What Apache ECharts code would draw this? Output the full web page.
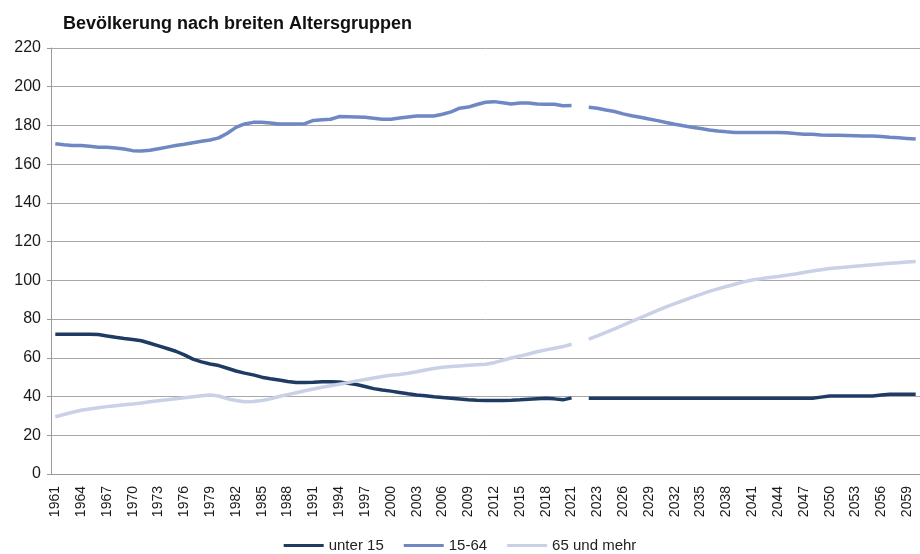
<!DOCTYPE html>
<html>
<head>
<meta charset="utf-8">
<title>Bevölkerung nach breiten Altersgruppen</title>
<script src="https://cdn.jsdelivr.net/npm/echarts@6/dist/echarts.min.js"></script>
<style>
  html, body { margin: 0; padding: 0; background: #fff; }
  #main { width: 920px; height: 554px; }
</style>
</head>
<body>
<div id="main"></div>
<script>
// Kategorien: 1961-2021, eine Lücke, dann 2022-2060
var years = [];
for (var y = 1961; y <= 2021; y++) years.push(String(y));
years.push('');
for (var y2 = 2022; y2 <= 2060; y2++) years.push(String(y2));

// 1961-2021
var unter15Hist = [
  72.2, 72.2, 72.2, 72.2, 72.2, 72.0, 71.3, 70.6, 70.0, 69.5,
  68.8, 67.5, 66.2, 64.8, 63.4, 61.5, 59.3, 57.9, 56.8, 56.0,
  54.6, 53.2, 52.1, 51.2, 50.0, 49.2, 48.5, 47.8, 47.3, 47.3,
  47.4, 47.6, 47.7, 47.5, 46.9, 46.2, 45.2, 44.1, 43.4, 42.8,
  42.1, 41.4, 40.8, 40.4, 39.9, 39.5, 39.1, 38.7, 38.3, 38.1,
  38.0, 38.0, 38.0, 38.1, 38.3, 38.6, 38.9, 39.1, 38.8, 38.3,
  39.3
];
// 2022-2060
var unter15Proj = [
  39.1, 39.1, 39.1, 39.1, 39.1, 39.1, 39.1, 39.1, 39.1, 39.1,
  39.1, 39.1, 39.1, 39.1, 39.1, 39.1, 39.1, 39.1, 39.1, 39.1,
  39.1, 39.1, 39.1, 39.1, 39.1, 39.1, 39.1, 39.7, 40.3, 40.3,
  40.3, 40.3, 40.3, 40.3, 40.8, 41.2, 41.2, 41.2, 41.2
];

var mittelHist = [
  170.5, 170.0, 169.6, 169.6, 169.2, 168.8, 168.7, 168.4, 167.8, 167.0,
  166.8, 167.2, 168.0, 168.8, 169.6, 170.3, 171.1, 171.8, 172.5, 173.6,
  176.0, 179.0, 180.8, 181.6, 181.7, 181.3, 180.8, 180.8, 180.8, 180.9,
  182.6, 183.0, 183.2, 184.6, 184.5, 184.4, 184.2, 183.7, 183.2, 183.2,
  183.8, 184.4, 184.9, 184.9, 184.9, 185.8, 187.0, 188.9, 189.5, 190.8,
  192.0, 192.3, 191.7, 191.1, 191.6, 191.6, 191.1, 191.0, 191.0, 190.2,
  190.3
];
var mittelProj = [
  189.4, 188.9, 188.0, 187.2, 186.0, 185.0, 184.2, 183.3, 182.5, 181.5,
  180.6, 179.8, 179.1, 178.4, 177.7, 177.1, 176.7, 176.4, 176.3, 176.3,
  176.3, 176.3, 176.3, 176.2, 175.8, 175.5, 175.4, 175.1, 174.9, 174.9,
  174.8, 174.7, 174.6, 174.6, 174.3, 173.9, 173.6, 173.3, 173.0
];

var aeltereHist = [
  29.6, 30.7, 31.9, 32.9, 33.6, 34.2, 34.8, 35.3, 35.8, 36.2,
  36.7, 37.3, 37.8, 38.3, 38.9, 39.4, 39.9, 40.4, 40.8, 40.3,
  38.9, 38.0, 37.3, 37.4, 38.0, 38.8, 40.0, 41.0, 42.0, 43.0,
  43.9, 44.8, 45.6, 46.4, 47.2, 48.1, 48.8, 49.6, 50.4, 51.0,
  51.4, 52.0, 52.8, 53.7, 54.5, 55.1, 55.5, 55.8, 56.1, 56.4,
  56.7, 57.5, 58.7, 59.9, 60.9, 62.0, 63.1, 64.1, 64.9, 65.8,
  67.0
];
var aeltereProj = [
  69.6, 71.3, 73.1, 75.0, 76.9, 78.8, 80.7, 82.6, 84.5, 86.3,
  88.0, 89.6, 91.2, 92.8, 94.3, 95.6, 96.8, 98.0, 99.2, 100.2,
  100.9, 101.5, 102.0, 102.6, 103.3, 104.1, 104.8, 105.5, 106.1, 106.5,
  106.9, 107.3, 107.7, 108.1, 108.4, 108.8, 109.1, 109.5, 109.8
];

var seriesNames = ['unter 15', '15-64', '65 und mehr'];
var seriesColors = ['#1f3a63', '#6f88c4', '#c9d1e6'];

var font = 'Liberation Sans, Arial, sans-serif';
var myChart = echarts.init(document.getElementById('main'));

function joinData(hist, proj) {
  return hist.concat([null], proj);
}

var option = {
  backgroundColor: '#ffffff',
  animation: false,
  title: {
    text: 'Bevölkerung nach breiten Altersgruppen',
    left: 58,
    top: 10,
    textStyle: { fontFamily: font, fontSize: 18, fontWeight: 'bold', color: '#111' }
  },
  legend: {
    data: seriesNames,
    top: 536,
    left: 'center',
    padding: 2,
    icon: 'rect',
    itemWidth: 40,
    itemHeight: 3,
    itemGap: 20,
    textStyle: { fontFamily: font, fontSize: 15, color: '#222' }
  },
  grid: { left: 51, right: -3, top: 48, bottom: 80 },
  xAxis: {
    type: 'category',
    data: years,
    boundaryGap: true,
    axisLine: { lineStyle: { color: '#9a9a9a' } },
    axisTick: { interval: 0, length: 4, lineStyle: { color: '#9a9a9a' } },
    axisLabel: {
      interval: 2,
      rotate: 90,
      margin: 12,
      fontFamily: font,
      fontSize: 14,
      color: '#1a1a1a'
    }
  },
  yAxis: {
    type: 'value',
    min: 0,
    max: 220,
    interval: 20,
    axisLine: { show: true, lineStyle: { color: '#9a9a9a' } },
    axisTick: { show: true, length: 4, lineStyle: { color: '#9a9a9a' } },
    axisLabel: { fontFamily: font, fontSize: 16, color: '#1a1a1a', margin: 10 },
    splitLine: { lineStyle: { color: '#a8a8a8' } }
  },
  series: [
    {
      name: seriesNames[0],
      type: 'line',
      data: joinData(unter15Hist, unter15Proj),
      showSymbol: false,
      connectNulls: false,
      color: seriesColors[0],
      lineStyle: { width: 3.5 }
    },
    {
      name: seriesNames[1],
      type: 'line',
      data: joinData(mittelHist, mittelProj),
      showSymbol: false,
      connectNulls: false,
      color: seriesColors[1],
      lineStyle: { width: 3.5 }
    },
    {
      name: seriesNames[2],
      type: 'line',
      data: joinData(aeltereHist, aeltereProj),
      showSymbol: false,
      connectNulls: false,
      color: seriesColors[2],
      lineStyle: { width: 3.5 }
    }
  ]
};

myChart.setOption(option);
</script>
</body>
</html>
